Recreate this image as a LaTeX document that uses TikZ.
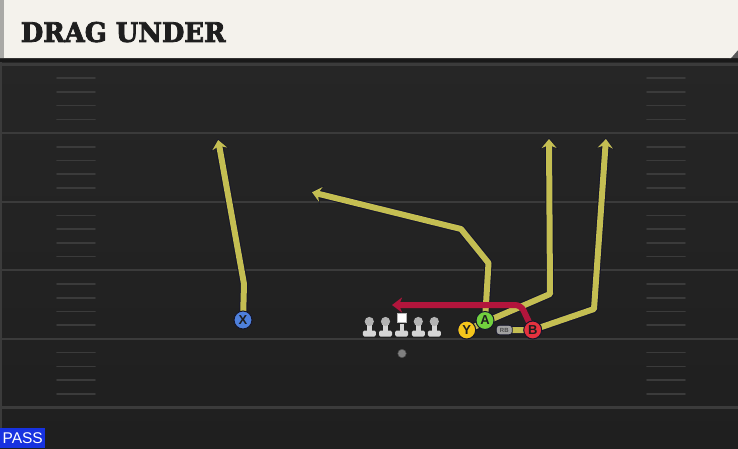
\documentclass[tikz,border=0pt]{standalone}
\usepackage{fontspec}
\setmainfont{Liberation Sans}
\newfontfamily\titlefont{DejaVu Serif}[BoldFont={DejaVu Serif Bold}, BoldFeatures={FakeBold=3}]
\usetikzlibrary{arrows.meta}
\usetikzlibrary{positioning}

\pgfdeclarelayer{field}
\pgfdeclarelayer{routes}
\pgfsetlayers{field,routes,main}

\definecolor{header}{HTML}{F4F2EC}
\definecolor{headerstrip}{HTML}{A9A9A6}
\definecolor{titletext}{HTML}{1E1E1E}
\definecolor{fieldtop}{HTML}{272727}
\definecolor{fieldbot}{HTML}{1F1F1F}
\definecolor{yardcol}{HTML}{3B3B3B}
\definecolor{outline}{HTML}{16162A}
\definecolor{routecol}{HTML}{C4BE52}
\definecolor{dragred}{HTML}{B3153C}
\definecolor{xblue}{HTML}{4E80DC}
\definecolor{yyellow}{HTML}{F4C51C}
\definecolor{agreen}{HTML}{72D03E}
\definecolor{bred}{HTML}{E5323F}
\definecolor{rbgrey}{HTML}{A2A2A2}
\definecolor{linehead}{HTML}{B4B4B4}
\definecolor{linebody}{HTML}{D5D5D5}
\definecolor{passblue}{HTML}{1732E0}

\tikzset{
  player/.style={circle, draw=outline, line width=1pt, minimum size=18pt, inner sep=0pt,
    font=\bfseries\fontsize{13}{13}\selectfont, text=titletext},
  rb/.style={rectangle, rounded corners=3pt, draw=outline, line width=0.8pt, fill=rbgrey,
    minimum width=16pt, minimum height=9.5pt, inner sep=0pt,
    font=\bfseries\fontsize{6}{6}\selectfont, text=titletext!80},
  route/.style={draw=routecol, line width=6pt, line join=round, shorten >=1pt,
    -{Stealth[length=9pt, width=15pt, inset=3pt]},
    preaction={draw=outline, line width=8pt, line join=round, shorten >=0pt,
      -{Stealth[length=11pt, width=18pt, inset=3.5pt]}}},
  drag/.style={draw=dragred, line width=6pt, rounded corners=6pt,
    -{Stealth[length=10pt, width=15pt, inset=3pt]}},
  yardline/.style={draw=yardcol, line width=2.2pt},
  hash/.style={draw=yardcol, line width=1.6pt, line cap=round}
}

\begin{document}
\begin{tikzpicture}[x=1pt, y=-1pt]

  \def\linetop{64.5}
  \def\linesep{68.6}
  \def\hashsep{13.72}

  \useasboundingbox (0,0) rectangle (738,448);

  \begin{pgfonlayer}{field}
    % field
    \shade[top color=fieldtop, bottom color=fieldbot] (0,0) rectangle (738,448);
    \fill[yardcol] (0,58) rectangle (2,428);

    % yard lines
    \foreach \i in {0,...,5}
      \draw[yardline] (0,\linetop+\i*\linesep) -- (738,\linetop+\i*\linesep);

    % hash marks
    \foreach \i in {0,...,4}
      \foreach \k in {1,...,4} {
        \draw[hash] (57,\linetop+\i*\linesep+\k*\hashsep) -- (95,\linetop+\i*\linesep+\k*\hashsep);
        \draw[hash] (647,\linetop+\i*\linesep+\k*\hashsep) -- (685,\linetop+\i*\linesep+\k*\hashsep);
      }

    % header
    \fill[black!90] (0,56) rectangle (738,62);
    \fill[black!65] (738,48) -- (738,58) -- (729,58) -- cycle;
    \fill[header] (0,0) -- (738,0) -- (738,50) -- (731,58) -- (0,58) -- cycle;
    \fill[headerstrip] (0,0) rectangle (4,58);
  \end{pgfonlayer}

  \node[anchor=north west, inner sep=0pt, text=titletext] (title) at (20.7,21.7)
    {\resizebox{204.6pt}{20pt}{\titlefont\bfseries DRAG UNDER}};

  % offensive line
  \foreach \lx in {369.3,385.5,401.7,418.3,434.3} {
    \fill[linebody, rounded corners=1.5pt] (\lx-6.5,330.5) rectangle (\lx+6.5,336.5);
    \fill[linebody] (\lx-2.2,324) rectangle (\lx+2.2,332);
  }
  \foreach \lx in {369.3,385.5,418.3,434.3}
    \fill[linehead] (\lx,321.5) circle (4.6pt);
  \node[rectangle, fill=white, draw=linehead, line width=0.6pt, minimum size=9pt, inner sep=0pt] (C) at (401.7,318.2) {};
  \node[circle, fill=black!50, draw=black!70, line width=0.5pt, minimum size=8.5pt, inner sep=0pt] (QB) at (402,353.5) {};

  % receivers
  \node[player, fill=xblue] (X) at (243,320) {X};
  \node[player, fill=yyellow] (Y) at (466.7,330) {Y};
  \node[player, fill=agreen] (A) at (485,320.5) {A};
  \node[rb] (RB) at (504.3,330) {RB};
  \node[player, fill=bred] (B) at (532.7,330) {B};

  % route breaks
  \coordinate (xbreak) at (244,284);
  \coordinate (xend) at (218,139);
  \coordinate (abreak1) at (488.5,263);
  \coordinate (abreak2) at (461,229);
  \coordinate (aend) at (311,192);
  \coordinate (ybreak) at (550,294);
  \coordinate (yend) at (549,138);
  \coordinate (rbbreak) at (594,309);
  \coordinate (rbend) at (606,138);
  \coordinate (bbreak) at (521,305);
  \coordinate (bend) at (392,305);

  \begin{pgfonlayer}{routes}
    \draw[route] (X.center) -- (xbreak) -- (xend);
    \draw[route] (A.center) -- (abreak1) -- (abreak2) -- (aend);
    \draw[route] (Y.center) -- (ybreak) -- (yend);
    \draw[route] (RB.center) -- (B.center) -- (rbbreak) -- (rbend);
    % drag
    \draw[drag] (B.center) -- (bbreak) -- (bend);
  \end{pgfonlayer}

  % play type
  \node[fill=passblue, anchor=south west, minimum width=45pt, minimum height=20pt, inner sep=0pt,
    text=white, font=\fontsize{15.5}{15.5}\selectfont] (pass) at (0,448) {PASS};

\end{tikzpicture}
\end{document}
